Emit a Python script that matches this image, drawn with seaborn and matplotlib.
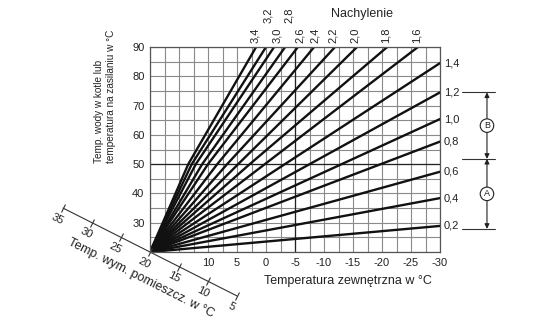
import numpy as np
import pandas as pd
import seaborn as sns
import matplotlib
matplotlib.use("Agg")
import matplotlib.pyplot as plt
from matplotlib.markers import MarkerStyle
from matplotlib.transforms import Affine2D, blended_transform_factory

# ---------------- data ----------------
slope_labels = ["0,2", "0,4", "0,6", "0,8", "1,0", "1,2", "1,4", "1,6", "1,8",
                "2,0", "2,2", "2,4", "2,6", "2,8", "3,0", "3,2", "3,4"]
start_outdoor = 20
start_flow = 20
# outdoor temperature where the steep curves cross 50 °C flow (mid point)
mid_outdoor = [None, None, None, None, None, None, None, 0.2, 2.8,
               4.8, 6.7, 8.4, 10.0, 11.0, 12.1, 12.8, 13.4]
mid_flow = [None, None, None, None, None, None, None, 50, 50,
            50, 50, 50, 50, 50, 50, 50, 50]
end_outdoor = [-30, -30, -30, -30, -30, -30, -30, -26.2, -20.9,
               -15.7, -11.9, -8.3, -5.5, -3.3, -1.4, 0.0, 1.7]
end_flow = [28.9, 38.4, 47.4, 57.7, 65.4, 74.5, 84.5, 90, 90,
            90, 90, 90, 90, 90, 90, 90, 90]
outdoor_ticks = [10, 5, 0, -5, -10, -15, -20, -25, -30]
flow_ticks = [30, 40, 50, 60, 70, 80, 90]
room_ticks = [35, 30, 25, 20, 15, 10, 5]
elevated_labels = ["3,2", "2,8"]

rows = []
for lab, xm, ym, xe, ye in zip(slope_labels, mid_outdoor, mid_flow, end_outdoor, end_flow):
    rows.append({"slope": lab, "outdoor": start_outdoor, "flow": start_flow})
    if xm is not None:
        rows.append({"slope": lab, "outdoor": xm, "flow": ym})
    rows.append({"slope": lab, "outdoor": xe, "flow": ye})
df = pd.DataFrame(rows)

# ---------------- style ----------------
sns.set_theme(style="white")
plt.rcParams["font.family"] = ["Liberation Sans", "DejaVu Sans"]

fig = plt.figure(figsize=(5.39, 3.23), dpi=100)
ax = fig.add_axes([150 / 539, 1 - 252 / 323, 290 / 539, 205 / 323])

grid_col = "#8a8a8a"
ax.set_xlim(20, -30)
ax.set_ylim(20, 90)
ax.set_xticks(outdoor_ticks)
ax.set_xticklabels([str(v) for v in outdoor_ticks])
ax.set_xticks(np.arange(20, -30.1, -2.5), minor=True)
ax.set_yticks(flow_ticks)
ax.set_yticklabels([str(v) for v in flow_ticks])
ax.set_yticks(np.arange(20, 90.1, 5), minor=True)
ax.grid(which="both", color=grid_col, lw=0.8)
ax.tick_params(which="both", length=0, labelsize=8, colors="#222222")
ax.tick_params(axis="x", pad=4.5)
ax.tick_params(axis="y", pad=4)
for sp in ax.spines.values():
    sp.set_color("#555555")
    sp.set_linewidth(0.9)
ax.axvline(-5, color="#222222", lw=0.9, zorder=1.5)
ax.axhline(50, color="#222222", lw=0.9, zorder=1.5)

sns.lineplot(data=df, x="outdoor", y="flow", units="slope", estimator=None,
             color="#111111", lw=1.7, ax=ax, sort=False, legend=False)
ax.set_xlabel("")
ax.set_ylabel("")

# slope labels
nudges = {"3,4": -1, "3,2": 2, "3,0": 3, "2,8": 4, "2,6": 2, "2,4": 1,
          "2,2": -2, "2,0": -2, "1,8": -2, "1,6": -1}
for lab, xe, ye in zip(slope_labels, end_outdoor, end_flow):
    if ye >= 90:
        dy = 24 if lab in elevated_labels else 4
        ax.annotate(lab, xy=(xe, 90), xytext=(nudges.get(lab, 0), dy),
                    textcoords="offset pixels", rotation=90, ha="center",
                    va="bottom", fontsize=8, color="#222222",
                    annotation_clip=False)
    else:
        ax.annotate(lab, xy=(xe, ye), xytext=(4, 0), textcoords="offset pixels",
                    ha="left", va="center", fontsize=8, color="#222222",
                    annotation_clip=False)

fig.text(362 / 539, 1 - 14 / 323, "Nachylenie", ha="center", va="center",
         fontsize=9, color="#222222")

# axis labels
ax.text(348 / 539, 1 - 281 / 323, "Temperatura zewnętrzna w °C", ha="center",
        va="center", fontsize=9, color="#222222", transform=fig.transFigure)
ax.text(-0.155, (252 - 163) / 205, "Temp. wody w kotle lub\ntemperatura na zasilaniu w °C",
        rotation=90, ha="center", va="bottom", multialignment="left",
        fontsize=7.2, color="#222222", transform=ax.transAxes, linespacing=1.15)

# diagonal room temperature axis (line flow = outdoor)
fig.canvas.draw()
p1 = ax.transData.transform((room_ticks[0], room_ticks[0]))
p2 = ax.transData.transform((room_ticks[-1], room_ticks[-1]))
ang = np.degrees(np.arctan2(p2[1] - p1[1], p2[0] - p1[0]))
ax.plot(room_ticks, room_ticks, color="#333333", lw=0.8, clip_on=False)
tick_marker = MarkerStyle("|", transform=Affine2D().rotate_deg(ang))
ax.plot(room_ticks, room_ticks, ls="none", marker=tick_marker, ms=6,
        mec="#333333", mew=0.8, clip_on=False)
perp = np.array([np.sin(np.radians(ang)), -np.cos(np.radians(ang))])
for r in room_ticks:
    ax.annotate(str(r), xy=(r, r), xytext=(perp[0] * 12, perp[1] * 12),
                textcoords="offset pixels", rotation=ang, rotation_mode="anchor",
                ha="center", va="center", fontsize=8, color="#222222",
                annotation_clip=False)
ax.text(141 / 539, 1 - 278 / 323, "Temp. wym. pomieszcz. w °C", rotation=ang,
        rotation_mode="anchor", ha="center", va="center", fontsize=9,
        color="#222222", transform=fig.transFigure)

# right side bracket A / B
trans = blended_transform_factory(ax.transAxes, ax.transData)
y_top = end_flow[5]
y_bot = end_flow[0] - 1.0
y_mid = 51.8
for yv in (y_top, y_mid, y_bot):
    ax.plot([1.076, 1.19], [yv, yv], color="#333333", lw=0.8, transform=trans,
            clip_on=False)
xa = 1.162
for (ya, yb), letter in (((y_top, y_mid), "B"), ((y_mid, y_bot), "A")):
    ax.annotate("", xy=(xa, ya), xytext=(xa, yb), xycoords=trans, textcoords=trans,
                arrowprops=dict(arrowstyle="<|-|>", lw=0.8, color="#222222",
                                mutation_scale=7, shrinkA=0, shrinkB=0),
                annotation_clip=False)
    ax.text(xa, (ya + yb) / 2, letter, transform=trans, ha="center", va="center",
            fontsize=6.5, color="#222222",
            bbox=dict(boxstyle="circle,pad=0.25", fc="white", ec="#222222", lw=0.8))

fig.savefig("out.png", dpi=100, facecolor="white")
